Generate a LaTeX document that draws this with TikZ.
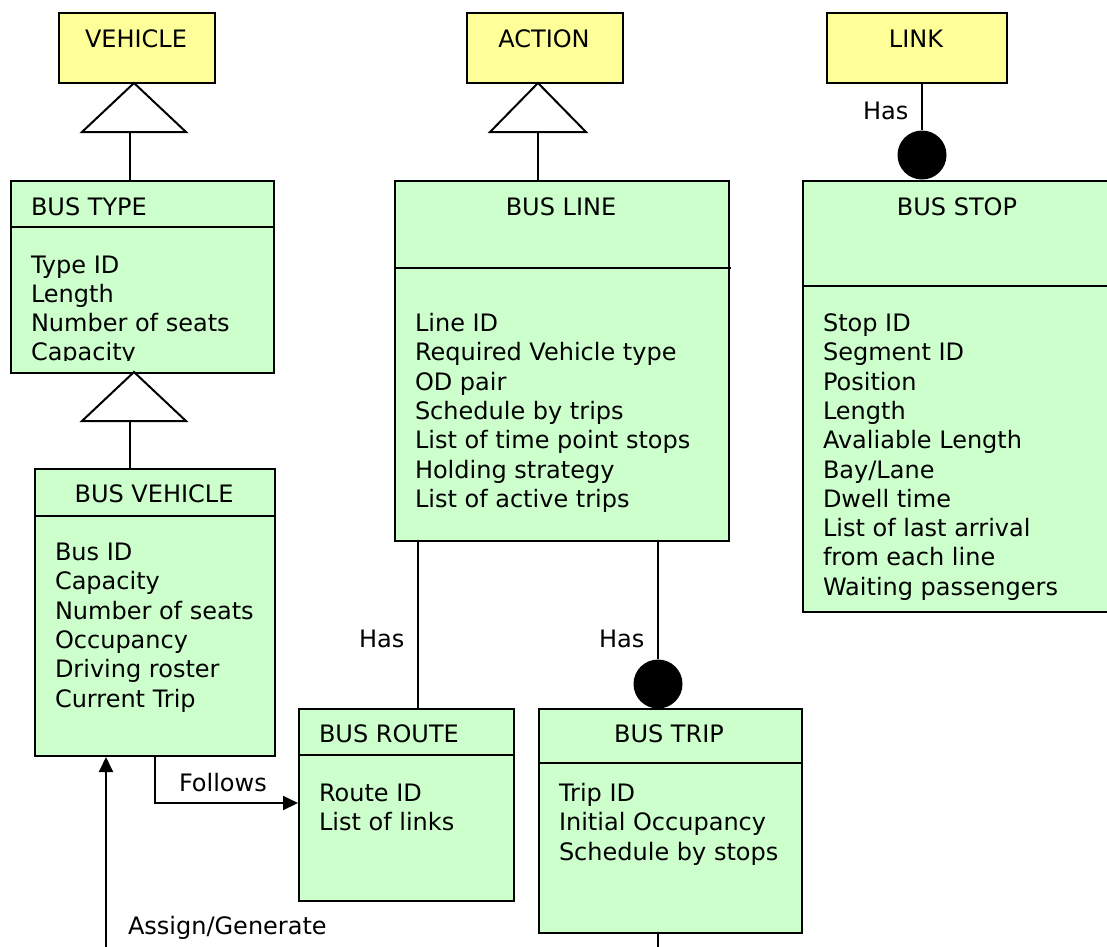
\documentclass[tikz,border=0pt]{standalone}
\usepackage{fontspec}
\setmainfont{DejaVu Sans}
\usetikzlibrary{arrows.meta}
\definecolor{classyellow}{HTML}{FFFF99}
\definecolor{classgreen}{HTML}{CCFFCC}
\begin{document}
\begin{tikzpicture}[x=1pt,y=-1pt,line width=2pt,
  every node/.style={font=\fontsize{24}{29.3}\selectfont,inner sep=0pt},
  abstract/.style={draw=black,fill=classyellow,anchor=north west},
  classbox/.style={draw=black,fill=classgreen,anchor=north west},
  title/.style={anchor=base},
  ltitle/.style={anchor=base west},
  attrs/.style={anchor=base west},
  label/.style={anchor=base west},
  dot/.style={circle,fill=black,draw=none,minimum size=49pt},
  gen/.style={fill=white,line join=miter},
  flow/.style={-{Triangle[length=15pt,width=14pt]}}]
\useasboundingbox (0,0) rectangle (1107,946);

% abstract parents
\node[abstract,minimum width=156pt,minimum height=70pt] (vehicle) at (58,12) {};
\node[title] (vehicle-t) at (136,47.5) {VEHICLE};
\node[abstract,minimum width=156pt,minimum height=70pt] (action) at (466,12) {};
\node[title] (action-t) at (544,47.5) {ACTION};
\node[abstract,minimum width=180pt,minimum height=70pt] (link) at (826,12) {};
\node[title] (link-t) at (916,47.5) {LINK};

% BUS TYPE
\node[classbox,minimum width=263pt,minimum height=192pt] (bustype) at (10,180) {};
\draw (10,227) -- (275,227);
\node[ltitle] (bustype-t) at (30,215.5) {BUS TYPE};
\begin{scope}
  \clip (0,0) rectangle (300,360);
  \node[attrs] (bustype-a) at (30,273) {\begin{tabular}[t]{@{}l@{}}Type ID\\Length\\Number of seats\\Capacity\end{tabular}};
\end{scope}

% BUS LINE
\node[classbox,minimum width=334pt,minimum height=360pt] (busline) at (394,180) {};
\draw (394,268) -- (731,268);
\node[title] (busline-t) at (561,215.5) {BUS LINE};
\node[attrs] (busline-a) at (414,331.5) {\begin{tabular}[t]{@{}l@{}}Line ID\\Required Vehicle type\\OD pair\\Schedule by trips\\List of time point stops\\Holding strategy\\List of active trips\end{tabular}};

% BUS STOP
\node[classbox,minimum width=320pt,minimum height=431pt] (busstop) at (802,180) {};
\draw (802,286) -- (1110,286);
\node[title] (busstop-t) at (957,215.5) {BUS STOP};
\node[attrs] (busstop-a) at (822,331.5) {\begin{tabular}[t]{@{}l@{}}Stop ID\\Segment ID\\Position\\Length\\Avaliable Length\\Bay/Lane\\Dwell time\\List of last arrival\\from each line\\Waiting passengers\end{tabular}};

% BUS VEHICLE
\node[classbox,minimum width=240pt,minimum height=287pt] (busvehicle) at (34,468) {};
\draw (34,516) -- (274,516);
\node[title] (busvehicle-t) at (154,502.5) {BUS VEHICLE};
\node[attrs] (busvehicle-a) at (54,560.5) {\begin{tabular}[t]{@{}l@{}}Bus ID\\Capacity\\Number of seats\\Occupancy\\Driving roster\\Current Trip\end{tabular}};

% BUS ROUTE
\node[classbox,minimum width=215pt,minimum height=192pt] (busroute) at (298,708) {};
\draw (298,755) -- (513,755);
\node[ltitle] (busroute-t) at (318,742.5) {BUS ROUTE};
\node[attrs] (busroute-a) at (318,801.5) {\begin{tabular}[t]{@{}l@{}}Route ID\\List of links\end{tabular}};

% BUS TRIP
\node[classbox,minimum width=263pt,minimum height=224pt] (bustrip) at (538,708) {};
\draw (538,763) -- (803,763);
\node[title] (bustrip-t) at (669,742.5) {BUS TRIP};
\node[attrs] (bustrip-a) at (558,801.5) {\begin{tabular}[t]{@{}l@{}}Trip ID\\Initial Occupancy\\Schedule by stops\end{tabular}};

% generalisation: BUS TYPE is a VEHICLE
\draw[gen] (134,83) -- (186,132) -- (82,132) -- cycle;
\coordinate (vehicle-gen) at (130,132);
\draw (vehicle-gen) -- (vehicle-gen |- bustype.north);

% generalisation: BUS VEHICLE is a BUS TYPE
\draw[gen] (134,372) -- (186,421) -- (82,421) -- cycle;
\coordinate (bustype-gen) at (130,421);
\draw (bustype-gen) -- (bustype-gen |- busvehicle.north);

% generalisation: BUS LINE is an ACTION
\draw[gen] (538,83) -- (586,132) -- (490,132) -- cycle;
\coordinate (action-gen) at (538,132);
\draw (action-gen) -- (action-gen |- busline.north);

% LINK has many BUS STOPs
\node[dot] (stopdot) at (922,155) {};
\draw (stopdot.north |- link.south) -- (stopdot.north);
\node[label] (has-stop) at (862,119.5) {Has};

% BUS LINE has a BUS ROUTE
\draw (busline.south -| 418,0) -- (busroute.north -| 418,0);
\node[label] (has-route) at (358,647.5) {Has};

% BUS LINE has many BUS TRIPs
\node[dot] (tripdot) at (658,684) {};
\draw (tripdot.north |- busline.south) -- (tripdot.north);
\node[label] (has-trip) at (598,647.5) {Has};
\coordinate (trip-out) at (658,960);
\draw (trip-out |- bustrip.south) -- (trip-out);

% BUS VEHICLE follows BUS ROUTE
\draw[flow] (busvehicle.south) |- (busroute.west |- 0,803);
\node[label] (follows) at (178,791.5) {Follows};

% assignment into BUS VEHICLE
\coordinate (assign-in) at (106,960);
\draw[flow] (assign-in) -- (assign-in |- busvehicle.south);
\node[label] (assign) at (127,934.5) {Assign/Generate};
\end{tikzpicture}
\end{document}
